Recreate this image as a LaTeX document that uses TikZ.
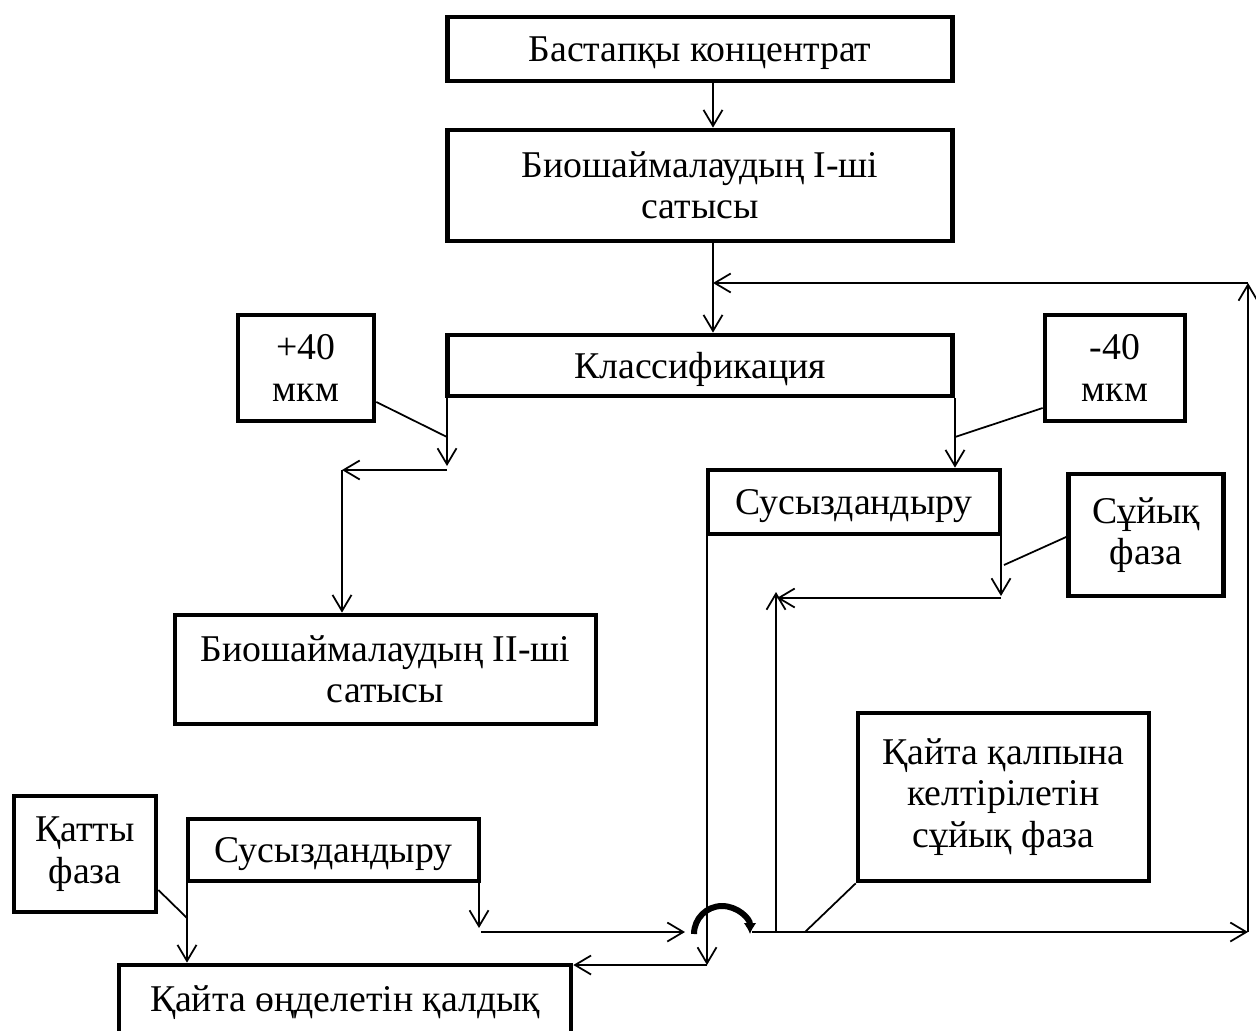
\documentclass[tikz,border=0pt]{standalone}
\usepackage{fontspec}
\setmainfont{Liberation Serif}
\usepackage{tikz}
\usetikzlibrary{arrows.meta,positioning,calc}

\begin{document}
\begin{tikzpicture}[
  x=0.02cm, y=-0.02cm,
  box/.style={rectangle, draw, line width=2.7pt, align=center, inner sep=0pt,
              font=\fontsize{21.5}{23.5}\selectfont},
  sbox/.style={box, text depth=0pt},
  arr/.style={-{Straight Barb[length=3.2mm,width=3.8mm]}, line width=1pt},
  ln/.style={line width=1pt}
]
  \useasboundingbox (0,0) rectangle (1256,1030);
  \clip (0,0) rectangle (1256,1030);

  % Main column
  \node[sbox, minimum width=10.1cm, minimum height=1.28cm] (b1) at (700,49) {Бастапқы концентрат};
  \node[box, minimum width=10.1cm, minimum height=2.22cm] (b2) at (700,185.5) {Биошаймалаудың І-ші\\сатысы};
  \node[sbox, minimum width=10.1cm, minimum height=1.22cm] (cls) at (700,365.5) {Классификация};

  % Size fractions
  \node[box, minimum width=2.72cm, minimum height=2.12cm] (pl) at (306,368) {+40\\мкм};
  \node[box, minimum width=2.8cm, minimum height=2.12cm] (mn) at (1115,368) {-40\\мкм};

  % Fine branch
  \node[sbox, minimum width=5.84cm, minimum height=1.28cm] (susr) at (854,502) {Сусыздандыру};
  \node[box, minimum width=3.1cm, minimum height=2.44cm] (suyk) at (1146,535) {Сұйық\\фаза};
  \node[box, minimum width=5.82cm, minimum height=3.36cm] (kp) at (1003.5,797) {Қайта қалпына\\келтірілетін\\сұйық фаза};

  % Coarse branch
  \node[box, minimum width=8.42cm, minimum height=2.18cm] (b3) at (385.5,669.5) {Биошаймалаудың ІІ-ші\\сатысы};
  \node[sbox, minimum width=5.82cm, minimum height=1.24cm] (susl) at (333.5,850) {Сусыздандыру};
  \node[box, minimum width=2.84cm, minimum height=2.32cm] (qt) at (85,854) {Қатты\\фаза};
  \node[sbox, minimum width=9.04cm, minimum height=1.36cm] (qd) at (345,999) {Қайта өңделетін қалдық};

  % Main column arrows
  \draw[arr] ([xshift=0.26cm]b1.south) -- ([xshift=0.26cm]b2.north);
  \draw[arr] ([xshift=0.26cm]b2.south) -- ([xshift=0.26cm]cls.north);

  % Return loop
  \coordinate (rtop) at (1248,283);
  \coordinate (rbot) at (1248,932);
  \coordinate (rin) at (713,283);
  \draw[arr] (rtop) -- (rin);
  \draw[arr] (rbot) -- (rtop);

  % +40 fraction
  \coordinate (cdrop) at (447,466);
  \coordinate (cturn) at (447,470);
  \coordinate (cleft) at (342,470);
  \coordinate (cjoin) at (447,437);
  \draw[arr] (cls.south -| cdrop) -- (cdrop);
  \draw[arr] (cturn) -- (cleft);
  \draw[arr] (cleft) -- (b3.north -| cleft);
  \draw[ln] ([yshift=-0.68cm]pl.east) -- (cjoin);

  % -40 fraction
  \coordinate (fdrop) at (955,0);
  \coordinate (fjoin) at (955,437);
  \draw[arr] (cls.south -| fdrop) -- (susr.north -| fdrop);
  \draw[ln] ([yshift=-0.8cm]mn.west) -- (fjoin);

  % Liquid phase
  \coordinate (ldrop) at (1001,596);
  \coordinate (lturn) at (1001,598);
  \coordinate (lleft) at (777,598);
  \coordinate (lup) at (776,592);
  \coordinate (lbase) at (776,932);
  \coordinate (ljoin) at (1004,565);
  \draw[arr] (susr.south -| ldrop) -- (ldrop);
  \draw[arr] (lturn) -- (lleft);
  \draw[arr] (lbase) -- (lup);
  \draw[ln] ([yshift=-0.04cm]suyk.west) -- (ljoin);

  % Cake to residue
  \coordinate (sdrop) at (707,965);
  \draw[arr] (susr.south -| sdrop) -- (sdrop);
  \draw[arr] (sdrop) -- (qd.east |- sdrop);

  % Left dewatering outputs
  \coordinate (wdrop) at (479,928);
  \coordinate (wturn) at (481,932);
  \coordinate (wend) at (685,932);
  \coordinate (hopL) at (694,934);
  \coordinate (hopR) at (752,932);
  \coordinate (kjoin) at (805,932);
  \draw[arr] (susl.south -| wdrop) -- (wdrop);
  \draw[arr] (wturn) -- (wend);
  \draw[line width=3.4pt, -{Latex[length=2.2mm,width=2.6mm]}] (hopL) arc[start angle=180, end angle=0, radius=0.56cm];
  \draw[arr] (hopR) -- (rbot);
  \draw[ln] (kp.south west) -- (kjoin);

  % Solid phase
  \coordinate (tdrop) at (187,0);
  \coordinate (tjoin) at (187,918);
  \draw[arr] (susl.south -| tdrop) -- (qd.north -| tdrop);
  \draw[ln] ([yshift=-0.72cm]qt.east) -- (tjoin);

\end{tikzpicture}
\end{document}
